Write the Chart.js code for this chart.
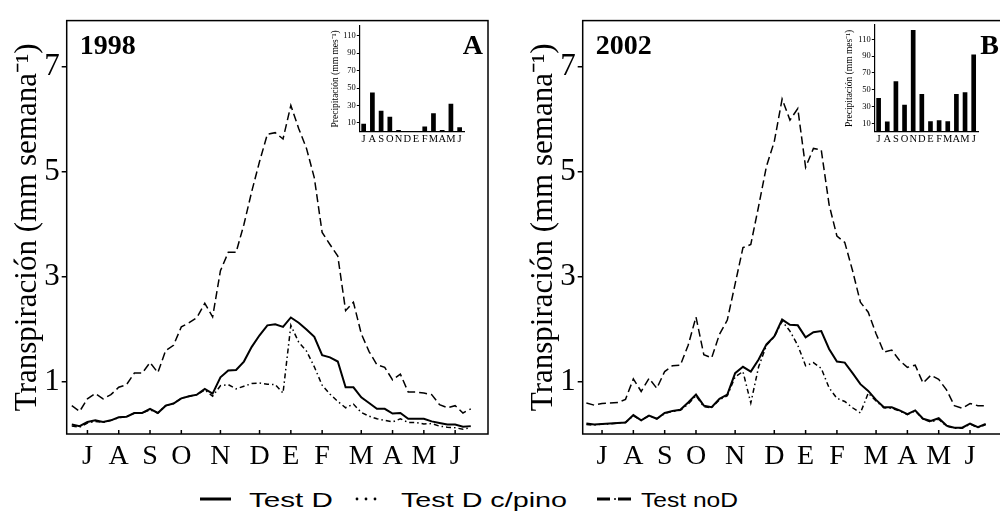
<!DOCTYPE html>
<html>
<head>
<meta charset="utf-8">
<script src="https://cdn.jsdelivr.net/npm/chart.js@4.4.1/dist/chart.umd.min.js"></script>
<style>
  body { margin: 0; background: #fff; }
  #wrap { position: relative; width: 1000px; height: 528px; overflow: hidden; background: #fff; }
  canvas { position: absolute; }
  #legend { position: absolute; left: 0; top: 485px; }
  #legend text { font-family: "Liberation Sans", Arial, sans-serif; font-size: 21px; fill: #000; }
</style>
</head>
<body>
<div id="wrap">
  <canvas id="mainA" width="500" height="480" style="left:0;top:0"></canvas>
  <canvas id="mainB" width="500" height="480" style="left:516px;top:0"></canvas>
  <canvas id="insetA" width="150" height="135" style="left:320px;top:15px"></canvas>
  <canvas id="insetB" width="150" height="135" style="left:835px;top:15px"></canvas>
  <svg id="legend" width="1000" height="40">
    <line x1="200" y1="14" x2="231" y2="14" stroke="#000" stroke-width="3"/>
    <text x="249" y="22" textLength="84" lengthAdjust="spacingAndGlyphs">Test D</text>
    <circle cx="357" cy="14" r="1.4" fill="#000"/>
    <circle cx="366" cy="14" r="1.4" fill="#000"/>
    <circle cx="375" cy="14" r="1.4" fill="#000"/>
    <text x="401" y="22" textLength="166" lengthAdjust="spacingAndGlyphs">Test D c/pino</text>
    <line x1="597" y1="14" x2="610" y2="14" stroke="#000" stroke-width="3"/>
    <line x1="614" y1="14" x2="616" y2="14" stroke="#000" stroke-width="1.5"/>
    <line x1="618" y1="14" x2="631" y2="14" stroke="#000" stroke-width="3"/>
    <text x="641" y="22" textLength="97" lengthAdjust="spacingAndGlyphs">Test noD</text>
  </svg>
</div>
<script>
// weekly transpiration, July to June (mm semana-1)
const testD1998 = [0.18,0.15,0.23,0.26,0.23,0.26,0.32,0.33,0.40,0.40,0.48,0.40,0.54,0.58,0.68,0.72,0.75,0.86,0.77,1.08,
  1.21,1.22,1.38,1.66,1.88,2.07,2.09,2.04,2.22,2.12,1.99,1.85,1.50,1.46,1.38,0.89,0.89,0.70,0.59,0.48,
  0.48,0.39,0.40,0.29,0.29,0.29,0.24,0.21,0.18,0.18,0.14,0.15];
const testDpino1998 = [0.15,0.13,0.21,0.24,0.22,0.26,0.31,0.33,0.40,0.40,0.46,0.40,0.54,0.58,0.68,0.72,0.75,0.84,0.72,0.92,
  0.94,0.86,0.91,0.96,0.97,0.95,0.94,0.78,2.07,1.75,1.58,1.28,0.93,0.76,0.62,0.50,0.57,0.41,0.34,0.29,
  0.26,0.23,0.29,0.22,0.22,0.19,0.20,0.15,0.13,0.12,0.09,0.12];
const testNoD1998 = [0.54,0.43,0.67,0.77,0.67,0.75,0.89,0.94,1.16,1.16,1.36,1.17,1.59,1.69,2.04,2.12,2.22,2.49,2.23,3.11,
  3.46,3.46,3.99,4.62,5.19,5.71,5.74,5.62,6.26,5.82,5.44,4.88,3.84,3.61,3.39,2.35,2.51,1.91,1.57,1.32,
  1.27,1.03,1.14,0.80,0.80,0.78,0.75,0.56,0.50,0.54,0.40,0.48];

const testD2002 = [0.20,0.18,0.19,0.20,0.21,0.22,0.36,0.26,0.35,0.29,0.40,0.44,0.46,0.60,0.75,0.54,0.51,0.67,0.75,1.16,
  1.28,1.19,1.42,1.71,1.86,2.18,2.08,2.07,1.84,1.94,1.96,1.62,1.38,1.36,1.16,0.95,0.82,0.65,0.51,0.51,
  0.45,0.38,0.45,0.29,0.25,0.30,0.16,0.12,0.12,0.20,0.13,0.19];
const testDpino2002 = [0.18,0.17,0.19,0.19,0.21,0.22,0.35,0.26,0.35,0.29,0.39,0.43,0.45,0.57,0.73,0.52,0.50,0.65,0.73,1.09,
  1.19,0.59,1.28,1.69,1.85,2.15,1.96,1.69,1.30,1.36,1.25,0.88,0.68,0.62,0.50,0.40,0.78,0.63,0.50,0.49,
  0.44,0.37,0.44,0.28,0.23,0.28,0.15,0.11,0.11,0.19,0.12,0.18];
const testNoD2002 = [0.59,0.55,0.58,0.59,0.60,0.66,1.05,0.81,1.06,0.87,1.19,1.30,1.31,1.69,2.23,1.51,1.45,1.90,2.17,2.86,
  3.55,3.61,4.34,5.10,5.57,6.38,5.98,6.20,5.08,5.44,5.41,4.37,3.77,3.65,3.11,2.51,2.32,1.91,1.56,1.60,
  1.40,1.27,1.31,0.97,1.12,1.04,0.84,0.54,0.49,0.58,0.54,0.54];

// month ticks on the weekly axis
const monthWeeks = [2, 6, 10, 14, 19, 24, 28, 32, 37, 41, 45, 49];
const monthLabels = ['J','A','S','O','N','D','E','F','M','A','M','J'];
const transpTicks = [1, 3, 5, 7];

// monthly rainfall (mm mes-1)
const precipMonths = ['J','A','S','O','N','D','E','F','M','A','M','J'];
const precip1998 = [9, 45, 24, 17, 2, 0, 0, 6, 21, 2, 32, 5];
const precip2002 = [40, 12, 60, 32, 121, 45, 12.5, 13.5, 12.5, 45, 47, 92];
const precipTicks = [10, 30, 50, 70, 90, 110];

const serif = '"Liberation Serif", "Times New Roman", serif';

const toPoints = s => s.map((v, i) => ({ x: i, y: v }));

const framePlugin = {
  id: 'frame',
  afterDraw(chart, args, opts) {
    const { ctx, chartArea: a } = chart;
    const x = chart.scales.x;
    ctx.save();
    ctx.strokeStyle = '#000';
    ctx.lineWidth = 1.5;
    ctx.strokeRect(a.left, a.top, a.right - a.left, a.bottom - a.top);
    x.ticks.forEach(t => {
      const px = x.getPixelForValue(t.value);
      ctx.beginPath();
      ctx.moveTo(px, a.bottom);
      ctx.lineTo(px, a.bottom - 4);
      ctx.stroke();
    });
    ctx.fillStyle = '#000';
    ctx.font = 'bold 28px ' + serif;
    ctx.textAlign = 'left';
    ctx.fillText(opts.year, a.left + 13, 54);
    ctx.textAlign = 'right';
    ctx.fillText(opts.letter, a.right - 5, 54);
    ctx.restore();
  }
};

function mainChart(id, d, pino, noD, year, letter, xMin, xMax) {
  return new Chart(document.getElementById(id), {
    type: 'line',
    data: {
      datasets: [
        { label: 'Test noD', data: toPoints(noD), borderColor: '#000', borderWidth: 1.5, borderDash: [8, 4] },
        { label: 'Test D', data: toPoints(d), borderColor: '#000', borderWidth: 2 },
        { label: 'Test D c/pino', data: toPoints(pino), borderColor: '#000', borderWidth: 1.5, borderDash: [5, 3, 1.5, 3] }
      ]
    },
    options: {
      responsive: false,
      animation: false,
      devicePixelRatio: 1,
      elements: { point: { radius: 0 }, line: { tension: 0, fill: false } },
      layout: { padding: { left: 0, top: 18, right: 12, bottom: 0 } },
      plugins: { legend: { display: false }, tooltip: { enabled: false }, frame: { year: year, letter: letter } },
      scales: {
        x: {
          type: 'linear',
          min: xMin,
          max: xMax,
          afterBuildTicks: s => { s.ticks = monthWeeks.map(v => ({ value: v })); },
          afterFit: s => { s.height = 46; },
          grid: { display: false, drawTicks: false },
          border: { display: false },
          ticks: {
            autoSkip: false, maxRotation: 0, padding: 6, color: '#000',
            font: { family: serif, size: 28 },
            callback: (v, i) => monthLabels[i]
          }
        },
        y: {
          min: 0,
          max: 7.875,
          afterBuildTicks: s => { s.ticks = transpTicks.map(v => ({ value: v })); },
          afterFit: s => { s.width = 66.7; },
          grid: { drawOnChartArea: false, drawTicks: true, tickLength: 5, color: '#000', lineWidth: 1.5 },
          border: { display: false },
          ticks: { padding: 2, color: '#000', font: { family: serif, size: 31 } },
          title: {
            display: true, text: 'Transpiración (mm semana⁻¹)', color: '#000',
            font: { family: serif, size: 31 }, padding: { top: 9, bottom: 0 }
          }
        }
      }
    },
    plugins: [framePlugin]
  });
}

function insetChart(id, values, yMax, padTop, padRight, titlePad) {
  return new Chart(document.getElementById(id), {
    type: 'bar',
    data: {
      labels: precipMonths,
      datasets: [{ data: values, backgroundColor: '#000', categoryPercentage: 1, barPercentage: 0.54 }]
    },
    options: {
      responsive: false,
      animation: false,
      devicePixelRatio: 1,
      layout: { padding: { left: 0, top: padTop, right: padRight, bottom: 0 } },
      plugins: { legend: { display: false }, tooltip: { enabled: false } },
      scales: {
        x: {
          afterFit: s => { s.height = 18.3; },
          grid: { display: false, drawTicks: false },
          border: { display: true, color: '#000', width: 1.2 },
          ticks: { autoSkip: false, maxRotation: 0, padding: 1, color: '#000', font: { family: serif, size: 10.5 } }
        },
        y: {
          min: 0,
          max: yMax,
          afterBuildTicks: s => { s.ticks = precipTicks.map(v => ({ value: v })); },
          afterFit: s => { s.width = 39.3; },
          grid: { drawOnChartArea: false, drawTicks: true, tickLength: 2.5, color: '#000', lineWidth: 1 },
          border: { display: true, color: '#000', width: 1.2 },
          ticks: { padding: 1, color: '#000', font: { family: serif, size: 8.5 } },
          title: {
            display: true, text: 'Precipitación (mm mes⁻¹)', color: '#000',
            font: { family: serif, size: 9.5 }, padding: { top: titlePad, bottom: 0 }
          }
        }
      }
    }
  });
}

mainChart('mainA', testD1998, testDpino1998, testNoD1998, '1998', 'A', -0.65, 53.2);
mainChart('mainB', testD2002, testDpino2002, testNoD2002, '2002', 'B', -0.47, 53.34);
insetChart('insetA', precip1998, 121, 11, 6, 9.3);
insetChart('insetB', precip2002, 127, 10, 7, 8.3);
</script>
</body>
</html>
